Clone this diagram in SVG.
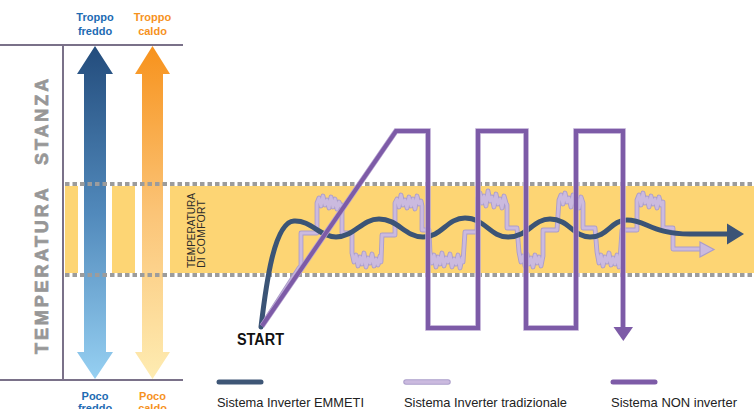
<svg xmlns="http://www.w3.org/2000/svg" width="754" height="409" viewBox="0 0 754 409">
<defs>
<linearGradient id="gBlue" gradientUnits="userSpaceOnUse" x1="0" y1="46" x2="0" y2="379">
<stop offset="0" stop-color="#234c7c"/>
<stop offset="0.5" stop-color="#5189bb"/>
<stop offset="1" stop-color="#96d0f2"/>
</linearGradient>
<linearGradient id="gOrange" gradientUnits="userSpaceOnUse" x1="0" y1="46" x2="0" y2="379">
<stop offset="0" stop-color="#f7921c"/>
<stop offset="0.5" stop-color="#fbc477"/>
<stop offset="1" stop-color="#feecb2"/>
</linearGradient>
<style>
.frame{stroke:#7a7189;stroke-width:2;fill:none}
.dots{stroke:#9c9c9c;stroke-width:4;stroke-dasharray:4.5 3;fill:none}
.lbl{font-family:"Liberation Sans",Arial,sans-serif;font-weight:bold;font-size:11px;text-anchor:middle}
.blue{fill:#1d6bb3}
.orange{fill:#f6921e}
.axis{font-family:"Liberation Sans",Arial,sans-serif;font-weight:bold;font-size:18px;fill:#979797;stroke:#979797;stroke-width:0.7;letter-spacing:2.9px}
.small{font-family:"Liberation Sans",Arial,sans-serif;font-size:10.5px;fill:#2b2b2b}
.leg{font-family:"Liberation Sans",Arial,sans-serif;font-size:13.5px;fill:#222}
.emmeti{stroke:#3b5476;stroke-width:5;fill:none;stroke-linecap:round;stroke-linejoin:round}
.tradO{stroke:#ab9dca;stroke-width:4.8;fill:none;stroke-linejoin:round}
.tradI{stroke:#cbbadf;stroke-width:3;fill:none;stroke-linejoin:round}
.nonO{stroke:#b6a2d0;stroke-width:5.5;fill:none;stroke-linejoin:miter}
.nonI{stroke:#7d5ba7;stroke-width:4;fill:none;stroke-linejoin:miter}
</style>
<path id="tradPath" d="M261,327 L299,268 L301,266 L301,233 L317,233 L317,203 L319,198 L321,206 L323,196 L325,205 L327,200 L329,208 L331,197 L333,207 L335,199 L337,209 L339,202 L341,207 L342,205 L342,233 L352,233 L352,253 L354,262 L356,255 L358,266 L360,257 L362,264 L364,253 L366,267 L368,258 L370,263 L372,254 L374,266 L376,259 L378,265 L380,256 L381,262 L382,235 L395,235 L395,203 L397,199 L399,207 L401,195 L403,205 L405,200 L407,208 L409,197 L411,206 L413,199 L415,209 L417,196 L419,204 L421,201 L422,206 L422,230 L429,230 L430,252 L432,263 L434,255 L436,267 L438,257 L440,264 L442,253 L444,266 L446,258 L448,262 L450,254 L452,267 L454,259 L456,264 L458,255 L460,268 L462,258 L463,262 L465,232 L477,232 L478,198 L480,193 L482,203 L484,196 L486,206 L488,191 L490,201 L492,197 L494,207 L496,194 L498,204 L500,199 L502,208 L504,196 L506,203 L507,205 L507,228 L517,228 L519,252 L521,262 L523,256 L525,266 L527,254 L529,264 L531,258 L533,267 L535,255 L537,263 L539,257 L541,266 L543,256 L543,230 L557,230 L559,200 L561,195 L563,204 L565,193 L567,202 L569,198 L571,207 L573,195 L575,204 L577,199 L579,208 L581,197 L583,203 L583,228 L595,228 L597,252 L599,263 L601,255 L603,266 L605,257 L607,262 L609,253 L611,265 L613,258 L615,264 L617,255 L619,267 L620,260 L622,230 L637,230 L637,200 L639,195 L641,205 L643,193 L645,203 L647,198 L649,207 L651,196 L653,204 L655,199 L657,208 L659,197 L661,205 L663,202 L663,228 L673,228 L673,249 L701,249"/>
<path id="nonPath" d="M262,326 L396,131 L428,131 L428,328 L478,328 L478,131 L526,131 L526,328 L576,328 L576,131 L623,131 L623,328"/>
</defs>

<g id="band">
<rect x="65" y="186" width="689" height="87" fill="#fdd574"/>
<rect x="78" y="186" width="34" height="87" fill="#ffffff"/>
<rect x="135" y="186" width="35" height="87" fill="#ffffff"/>
</g>

<g id="arrow-cold">
<polygon points="95,46 113,74 106,74 106,352 113,352 95,379 77,352 84,352 84,74 77,74" fill="url(#gBlue)"/>
</g>
<g id="arrow-hot">
<polygon points="152.5,46 170,74 163,74 163,352 170,352 152.5,379 135,352 142,352 142,74 135,74" fill="url(#gOrange)"/>
</g>

<g id="band-lines">
<line class="dots" x1="65" y1="184" x2="754" y2="184"/>
<line class="dots" x1="65" y1="275" x2="754" y2="275"/>
</g>

<g id="frame">
<line class="frame" x1="0" y1="45" x2="183" y2="45"/>
<line class="frame" x1="0" y1="380" x2="183" y2="380"/>
<line class="frame" x1="63" y1="45" x2="63" y2="380"/>
</g>

<g id="labels">
<text class="lbl blue" x="95" y="21">Troppo</text>
<text class="lbl blue" x="95" y="35">freddo</text>
<text class="lbl orange" x="152.5" y="21">Troppo</text>
<text class="lbl orange" x="152.5" y="35">caldo</text>
<text class="lbl blue" x="95" y="400">Poco</text>
<text class="lbl blue" x="95" y="412">freddo</text>
<text class="lbl orange" x="152.5" y="400">Poco</text>
<text class="lbl orange" x="152.5" y="412">caldo</text>
<text class="axis" transform="translate(48,354) rotate(-90)">TEMPERATURA</text>
<text class="axis" transform="translate(48,165) rotate(-90)">STANZA</text>
<text class="small" transform="translate(195,268) rotate(-90)" textLength="75" lengthAdjust="spacingAndGlyphs">TEMPERATURA</text>
<text class="small" transform="translate(205,268) rotate(-90)" textLength="68" lengthAdjust="spacingAndGlyphs">DI COMFORT</text>
<text x="237" y="345" font-family="Liberation Sans, Arial, sans-serif" font-weight="bold" font-size="16" fill="#111" textLength="47" lengthAdjust="spacingAndGlyphs">START</text>
</g>

<g id="connectors">
<g id="curve-traditional">
<use href="#tradPath" class="tradO"/>
<use href="#tradPath" class="tradI"/>
<polygon points="700,242 714,249.5 700,257" fill="#cbbadf" stroke="#ab9dca" stroke-width="1.2"/>
</g>
<g id="curve-emmeti">
<path class="emmeti" d="M261,327 C266,285 274,222 294,221 C311,220 320,237 336,237 C354,237 362,219 379,219 C398,219 405,237 423,237 C442,237 447,218 465,218 C485,218 490,237 508,237 C528,237 533,219 550,219 C569,219 573,237 590,237 C608,237 611,220 627,220 C646,220 652,234 690,234 L730,234"/>
<polygon points="727,223.5 744,234 727,244.5" fill="#3b5476"/>
</g>
<g id="curve-non-inverter">
<use href="#nonPath" class="nonO"/>
<use href="#nonPath" class="nonI"/>
<polygon points="613.5,327 633,327 623.3,341" fill="#7d5ba7"/>
</g>
</g>

<g id="legend">
<line x1="219" y1="382" x2="261" y2="382" stroke="#3e5676" stroke-width="5" stroke-linecap="round"/>
<text class="leg" x="217" y="407" textLength="147" lengthAdjust="spacingAndGlyphs">Sistema Inverter EMMETI</text>
<line x1="406" y1="382" x2="448" y2="382" stroke="#ab9dca" stroke-width="5.5" stroke-linecap="round"/>
<line x1="406" y1="382" x2="448" y2="382" stroke="#cbbadf" stroke-width="3.5" stroke-linecap="round"/>
<text class="leg" x="404" y="407" textLength="163" lengthAdjust="spacingAndGlyphs">Sistema Inverter tradizionale</text>
<line x1="613" y1="382" x2="655" y2="382" stroke="#7d5ba7" stroke-width="5" stroke-linecap="round"/>
<text class="leg" x="611" y="407" textLength="126" lengthAdjust="spacingAndGlyphs">Sistema NON inverter</text>
</g>
</svg>
